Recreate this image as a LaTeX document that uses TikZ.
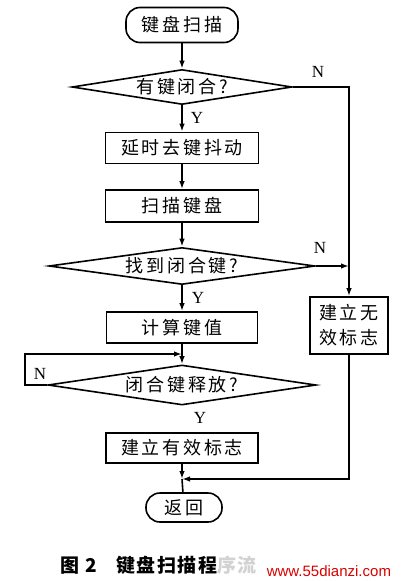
\documentclass[tikz,border=0pt]{standalone}
\usepackage{fontspec}
\setmainfont{Liberation Serif}
\newfontfamily\cjk[LetterSpace=15]{Noto Sans CJK SC}
\newfontfamily\capfont[LetterSpace=8]{Noto Sans CJK SC}
\newfontfamily\wmfont{Liberation Sans}
\usetikzlibrary{shapes.geometric,arrows.meta}
\begin{document}
\begin{tikzpicture}[x=1pt,y=-1pt,
  line width=1.6pt,
  txt/.style={font=\cjk\fontsize{18}{25}\selectfont},
  proc/.style={draw, txt, minimum width=153pt, minimum height=31pt, inner sep=0pt},
  term/.style={draw, txt, rounded corners=14pt, inner sep=0pt},
  dec/.style={draw, diamond, inner sep=0pt},
  yn/.style={font=\fontsize{17}{17}\selectfont, inner sep=0pt},
  arr/.style={-{Latex[length=8pt,width=5.5pt]}},
]
\fill[white] (0,0) rectangle (401,581);
\useasboundingbox (0,0) rectangle (401,581);

\node[term, minimum width=112pt, minimum height=35pt] (start) at (182,25) {键盘扫描};
\node[dec, minimum width=220pt, minimum height=35pt, label={[txt]center:有键闭合?}] (d1) at (182,87) {};
\node[proc] (p1) at (182,148) {延时去键抖动};
\node[proc, minimum height=32pt] (p2) at (182,206) {扫描键盘};
\node[dec, minimum width=266pt, minimum height=37pt, label={[txt]center:找到闭合键?}] (d2) at (182,266) {};
\node[proc, minimum width=151pt] (p3) at (182,327.5) {计算键值};
\node[dec, minimum width=268pt, minimum height=40pt, label={[txt]center:闭合键释放?}] (d3) at (182,385) {};
\node[proc, minimum width=152pt, minimum height=30pt] (p4) at (182,448) {建立有效标志};
\node[term, minimum width=76pt, minimum height=29pt] (ret) at (184,507.5) {返回};
\node[draw, txt, minimum width=78pt, minimum height=57pt, inner sep=0pt, align=center] (inv) at (349,325.5) {建立无\\效标志};

\coordinate (lc) at (25,354);
\coordinate (lp) at (182,354);
\coordinate (m) at (182,479);

\draw[arr] (start) -- (d1);
\draw[arr] (d1) -- (p1);
\draw[arr] (p1) -- (p2);
\draw[arr] (p2) -- (d2);
\draw[arr] (d2) -- (p3);
\draw[arr] (p3) -- (d3);
\draw[arr] (d3.west) -| (lc) -- (lp);
\draw[arr] (d1.east) -| (inv.north);
\draw[arr] (d2.east) -- (d2.east -| inv.north);
\draw[arr] (p4) -- (m);
\draw (m) -- (ret);
\draw[arr] (inv.south) |- (m);

\node[yn] (n1) at (318,72) {N};
\node[yn] (y1) at (197,118) {Y};
\node[yn] (n2) at (320,248) {N};
\node[yn] (y2) at (198,298) {Y};
\node[yn] (n3) at (40,374) {N};
\node[yn] (y3) at (200,418) {Y};

\node[font=\capfont\bfseries\fontsize{19}{20}\selectfont, anchor=west, inner sep=0pt] (cap) at (60,565) {图 2\quad 键盘扫描程{\color{gray!35}序流}};
\node[font=\wmfont\fontsize{15}{15}\selectfont, text=red!85!black, anchor=west, inner sep=0pt] (wm) at (266,571) {www.55dianzi.com};
\end{tikzpicture}
\end{document}
